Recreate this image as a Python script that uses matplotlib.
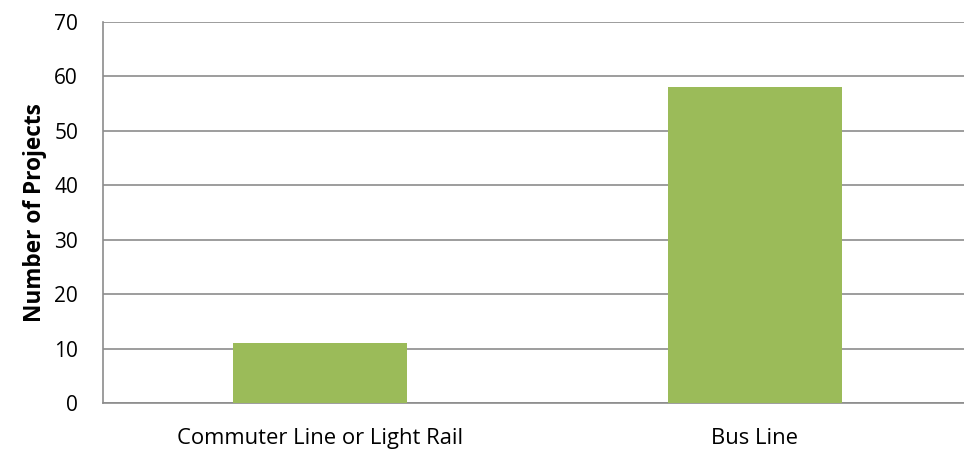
import matplotlib
matplotlib.use('Agg')
import matplotlib.pyplot as plt

categories = ['Commuter Line or Light Rail', 'Bus Line']
projects = [11, 58]
y_ticks = [0, 10, 20, 30, 40, 50, 60, 70]

plt.rcParams['font.family'] = ['Open Sans', 'DejaVu Sans']

fig = plt.figure(figsize=(9.64, 4.53), dpi=100, facecolor='w')
ax = fig.add_axes([103 / 964, 50 / 453, 869 / 964, 381 / 453])

ax.bar(range(len(categories)), projects, width=0.4, color='#9BBB59', zorder=3)

ax.set_xlim(-0.5, len(categories) - 0.5)
ax.set_ylim(0, 70)
ax.set_yticks(y_ticks)
ax.set_xticks(range(len(categories)))
ax.set_xticklabels(categories, fontsize=15.8)
ax.tick_params(axis='y', labelsize=15, length=0, pad=18)
ax.tick_params(axis='x', length=0, pad=18)
ax.yaxis.grid(True, color='#8c8c8c', linewidth=1.2, zorder=0)

for side in ['top', 'right']:
    ax.spines[side].set_visible(False)
for side in ['left', 'bottom']:
    ax.spines[side].set_color('#8c8c8c')
    ax.spines[side].set_linewidth(1.2)

ax.set_ylabel('Number of Projects', fontsize=16.3, fontweight='bold', labelpad=5)

fig.savefig('out.png', dpi=100)
